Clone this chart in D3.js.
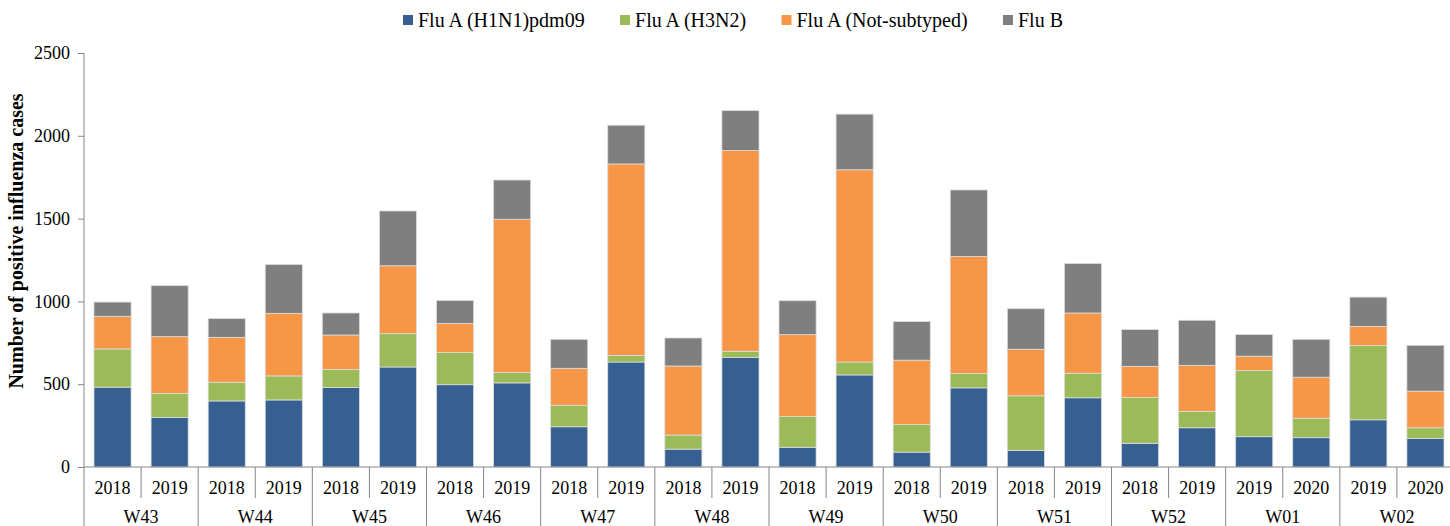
<!DOCTYPE html>
<html>
<head>
<meta charset="utf-8">
<script src="https://cdnjs.cloudflare.com/ajax/libs/d3/7.8.5/d3.min.js"></script>
<style>
  body { margin: 0; background: #fff; }
  svg { display: block; }
</style>
</head>
<body>
<script>
const w = 1450;
const h = 526;
const font = "'Liberation Serif', 'Times New Roman', serif";

// x categories: year row and week row
const years = ["2018", "2019", "2018", "2019", "2018", "2019", "2018", "2019", "2018", "2019", "2018", "2019",
               "2018", "2019", "2018", "2019", "2018", "2019", "2018", "2019", "2019", "2020", "2019", "2020"];
const weeks = ["W43", "W44", "W45", "W46", "W47", "W48", "W49", "W50", "W51", "W52", "W01", "W02"];

const seriesNames = ["Flu A (H1N1)pdm09", "Flu A (H3N2)", "Flu A (Not-subtyped)", "Flu B"];
const colors = ["#366092", "#9bbb59", "#f79646", "#7f7f7f"];

// values, one per bar
const h1n1 = [482, 299, 399, 405, 480, 604, 497, 508, 243, 634, 108, 661, 119, 556, 90, 478, 100, 418, 143, 237, 183, 177, 285, 173];
const h3n2 = [231, 145, 113, 145, 109, 201, 194, 62, 130, 39, 85, 38, 186, 78, 167, 86, 330, 148, 277, 99, 400, 118, 448, 64];
const notSub = [197, 343, 271, 378, 208, 410, 176, 926, 223, 1157, 417, 1212, 494, 1161, 388, 707, 281, 364, 188, 278, 86, 247, 116, 221];
const fluB = [86, 308, 113, 295, 133, 331, 139, 237, 175, 234, 169, 241, 205, 336, 233, 402, 245, 299, 222, 272, 131, 229, 177, 277];

const yTicks = [0, 500, 1000, 1500, 2000, 2500];

const rows = years.map((y, i) => ({
  idx: i,
  "Flu A (H1N1)pdm09": h1n1[i],
  "Flu A (H3N2)": h3n2[i],
  "Flu A (Not-subtyped)": notSub[i],
  "Flu B": fluB[i]
}));

const plotLeft = 84, plotRight = 1454, plotTop = 53, plotBottom = 467;

const svg = d3.select("body")
  .append("svg")
  .attr("width", w)
  .attr("height", h)
  .style("font-family", font);

const xScale = d3.scaleBand()
  .domain(d3.range(years.length))
  .range([plotLeft, plotRight])
  .paddingInner(0.35)
  .paddingOuter(0.175);

const yScale = d3.scaleLinear()
  .domain([0, 2500])
  .range([plotBottom, plotTop]);

const stacked = d3.stack().keys(seriesNames)(rows);

svg.append("g")
  .selectAll("g")
  .data(stacked)
  .enter()
  .append("g")
  .attr("fill", (d, i) => colors[i])
  .selectAll("rect")
  .data(d => d)
  .enter()
  .append("rect")
  .attr("x", d => xScale(d.data.idx))
  .attr("width", xScale.bandwidth())
  .attr("y", d => yScale(d[1]))
  .attr("height", d => yScale(d[0]) - yScale(d[1]))
  .attr("stroke", "#dcdcdc")
  .attr("stroke-width", 0.8);

// y axis
const yAxis = d3.axisLeft(yScale)
  .tickValues(yTicks)
  .tickFormat(d3.format("d"))
  .tickSize(6)
  .tickPadding(8);
const gy = svg.append("g")
  .attr("transform", "translate(" + plotLeft + ",0)")
  .call(yAxis);
gy.select(".domain").remove();
gy.selectAll(".tick line").attr("stroke", "#868686");
gy.selectAll(".tick text")
  .style("font-family", font)
  .style("font-size", "18px")
  .attr("fill", "#000");

svg.append("line")
  .attr("x1", plotLeft).attr("x2", plotLeft)
  .attr("y1", plotTop).attr("y2", h)
  .attr("stroke", "#868686");

// x axis line
svg.append("line")
  .attr("x1", plotLeft).attr("x2", plotRight)
  .attr("y1", plotBottom).attr("y2", plotBottom)
  .attr("stroke", "#868686");

// separators between bars (short) and between week groups (long)
const step = xScale.step();
const bounds = d3.range(1, years.length + 1);
svg.append("g")
  .selectAll("line")
  .data(bounds)
  .enter()
  .append("line")
  .attr("x1", i => plotLeft + i * step)
  .attr("x2", i => plotLeft + i * step)
  .attr("y1", plotBottom)
  .attr("y2", i => i % 2 === 0 ? h : 498)
  .attr("stroke", "#868686");

svg.append("g")
  .selectAll("text")
  .data(years)
  .enter()
  .append("text")
  .attr("x", (d, i) => xScale(i) + xScale.bandwidth() / 2)
  .attr("y", 494)
  .attr("text-anchor", "middle")
  .style("font-size", "18px")
  .text(d => d);

svg.append("g")
  .selectAll("text")
  .data(weeks)
  .enter()
  .append("text")
  .attr("x", (d, i) => plotLeft + (2 * i + 1) * step)
  .attr("y", 523)
  .attr("text-anchor", "middle")
  .style("font-size", "18px")
  .text(d => d);

// y title
svg.append("text")
  .attr("transform", "translate(23," + 241 + ") rotate(-90)")
  .attr("text-anchor", "middle")
  .style("font-size", "20px")
  .style("font-weight", "bold")
  .text("Number of positive influenza cases");

// legend
const legend = svg.append("g").attr("transform", "translate(0,20)");
const items = legend.selectAll("g")
  .data(seriesNames)
  .enter()
  .append("g");
items.append("rect")
  .attr("width", 10)
  .attr("height", 10)
  .attr("y", -5)
  .attr("fill", (d, i) => colors[i]);
items.append("text")
  .attr("x", 15)
  .attr("y", 6.5)
  .style("font-size", "20px")
  .text(d => d);

// spread items between the first square and the end of the last label
const legStart = 403, legEnd = 1063;
const widths = [];
items.each(function () {
  widths.push(15 + d3.select(this).select("text").node().getComputedTextLength());
});
const gap = (legEnd - legStart - d3.sum(widths)) / (widths.length - 1);
let pos = legStart;
items.each(function (d, i) {
  d3.select(this).attr("transform", "translate(" + pos + ",0)");
  pos += widths[i] + gap;
});
</script>
</body>
</html>
